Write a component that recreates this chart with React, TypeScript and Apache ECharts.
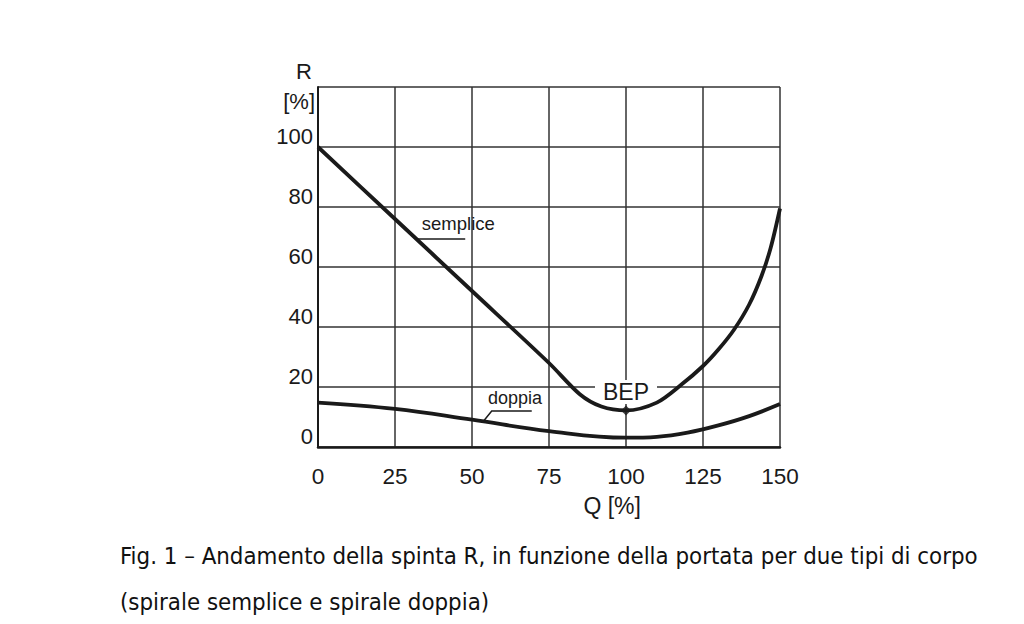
import React, { useEffect, useRef } from "react";
import * as echarts from "echarts";

const xTicks = [0, 25, 50, 75, 100, 125, 150];
const yTicks = [0, 20, 40, 60, 80, 100, 120];

const sempliceQ = [0, 25, 50, 75, 85, 92, 100, 110, 118, 125, 130, 135, 140, 144, 147, 150];
const sempliceR = [100, 76, 52, 28, 17.6, 13.5, 12.2, 14.8, 20.8, 27, 32.5, 39, 47.5, 57, 66.5, 79.5];

const doppiaQ = [0, 25, 50, 75, 100, 110, 120, 130, 140, 150];
const doppiaR = [14.8, 12.7, 9.1, 5.3, 3.1, 3.4, 4.8, 7.2, 10.3, 14.3];

const bepPoint = [100, 12.2];

const captionLines = [
  "Fig. 1 – Andamento della spinta R, in funzione della portata per due tipi di corpo",
  "(spirale semplice e spirale doppia)",
];

const FONT = "'Liberation Sans', Arial, Helvetica, sans-serif";
const CAPFONT = "'DejaVu Sans Condensed', 'DejaVu Sans', sans-serif";
const INK = "#1a1a1a";

export default function App() {
  const ref = useRef<HTMLDivElement>(null);

  useEffect(() => {
    document.body.style.margin = "0";
    const chart = echarts.init(ref.current!, undefined, { renderer: "svg" });
    const pair = (xs: number[], ys: number[]) => xs.map((x, i) => [x, ys[i]]);

    chart.setOption({
      animation: false,
      backgroundColor: "#ffffff",
      grid: { left: 318, right: 244, top: 87, bottom: 177, containLabel: false },
      xAxis: {
        type: "value",
        min: xTicks[0],
        max: xTicks[xTicks.length - 1],
        interval: 25,
        axisLine: { show: true, onZero: false, lineStyle: { color: INK, width: 2.5 } },
        axisTick: { show: false },
        splitLine: { show: true, lineStyle: { color: "#333", width: 1.5 } },
        axisLabel: { color: INK, fontFamily: FONT, fontSize: 22.5, margin: 18 },
      },
      yAxis: {
        type: "value",
        min: yTicks[0],
        max: yTicks[yTicks.length - 1],
        interval: 20,
        axisLine: { show: true, lineStyle: { color: INK, width: 2 } },
        axisTick: { show: false },
        splitLine: { show: true, lineStyle: { color: "#333", width: 1.5 } },
        axisLabel: {
          color: INK,
          fontFamily: FONT,
          fontSize: 22,
          margin: 5,
          verticalAlign: "bottom",
          formatter: (v: number) => (v === 120 ? "" : String(v)),
        },
      },
      series: [
        {
          name: "semplice",
          type: "line",
          data: pair(sempliceQ, sempliceR),
          smooth: 0.3,
          showSymbol: false,
          lineStyle: { color: INK, width: 3.8 },
          z: 3,
        },
        {
          name: "doppia",
          type: "line",
          data: pair(doppiaQ, doppiaR),
          smooth: 0.4,
          showSymbol: false,
          lineStyle: { color: INK, width: 3.8 },
          z: 3,
        },
        {
          name: "BEP",
          type: "scatter",
          data: [bepPoint],
          symbol: "diamond",
          symbolSize: 10,
          itemStyle: { color: INK },
          z: 4,
        },
      ],
    });

    const px = (q: number, r: number) => chart.convertToPixel({ gridIndex: 0 }, [q, r]) as number[];
    const sLabel = px(33.7, 74.5);
    const sU0 = px(32.3, 69.3);
    const sU1 = px(47.8, 69.3);
    const dLabel = px(55.2, 16.2);
    const d0 = px(53.7, 8.6);
    const d1 = px(56.4, 12);
    const d2 = px(69.4, 12);
    const bepT = px(bepPoint[0], 18.3);
    const axisTop = px(0, 120);
    const qLab = px(95.5, 0);

    chart.setOption({
      graphic: [
        {
          type: "text",
          x: sLabel[0],
          y: sLabel[1],
          z: 5,
          style: { text: "semplice", fontFamily: FONT, fontSize: 18.5, fill: INK, verticalAlign: "middle" },
        },
        {
          type: "line",
          z: 5,
          shape: { x1: sU0[0], y1: sU0[1], x2: sU1[0], y2: sU1[1] },
          style: { stroke: INK, lineWidth: 1.5 },
        },
        {
          type: "text",
          x: dLabel[0],
          y: dLabel[1],
          z: 5,
          style: { text: "doppia", fontFamily: FONT, fontSize: 18, fill: INK, verticalAlign: "middle" },
        },
        {
          type: "polyline",
          z: 5,
          shape: { points: [d0, d1, d2] },
          style: { stroke: INK, lineWidth: 1.5, fill: "none" },
        },
        {
          type: "text",
          x: bepT[0],
          y: bepT[1],
          z: 1,
          style: {
            text: "BEP",
            fontFamily: FONT,
            fontSize: 23,
            fill: INK,
            align: "center",
            verticalAlign: "middle",
            backgroundColor: "#ffffff",
            padding: [1, 8, 0, 8],
          },
        },
        {
          type: "text",
          x: axisTop[0] - 6,
          y: axisTop[1] - 16,
          style: { text: "R", fontFamily: FONT, fontSize: 22, fill: INK, align: "right", verticalAlign: "middle" },
        },
        {
          type: "text",
          x: axisTop[0] - 3,
          y: axisTop[1] + 14,
          style: { text: "[%]", fontFamily: FONT, fontSize: 22, fill: INK, align: "right", verticalAlign: "middle" },
        },
        {
          type: "text",
          x: qLab[0],
          y: qLab[1] + 59,
          style: { text: "Q [%]", fontFamily: FONT, fontSize: 23, fill: INK, align: "center", verticalAlign: "middle" },
        },
        {
          type: "text",
          x: 120,
          y: 556,
          style: { text: captionLines[0], fontFamily: CAPFONT, fontSize: 23.8, fill: "#111", verticalAlign: "middle" },
        },
        {
          type: "text",
          x: 120,
          y: 602,
          style: { text: captionLines[1], fontFamily: CAPFONT, fontSize: 23.8, fill: "#111", verticalAlign: "middle" },
        },
      ],
    });

    return () => chart.dispose();
  }, []);

  return <div ref={ref} style={{ width: 1024, height: 624 }} />;
}
